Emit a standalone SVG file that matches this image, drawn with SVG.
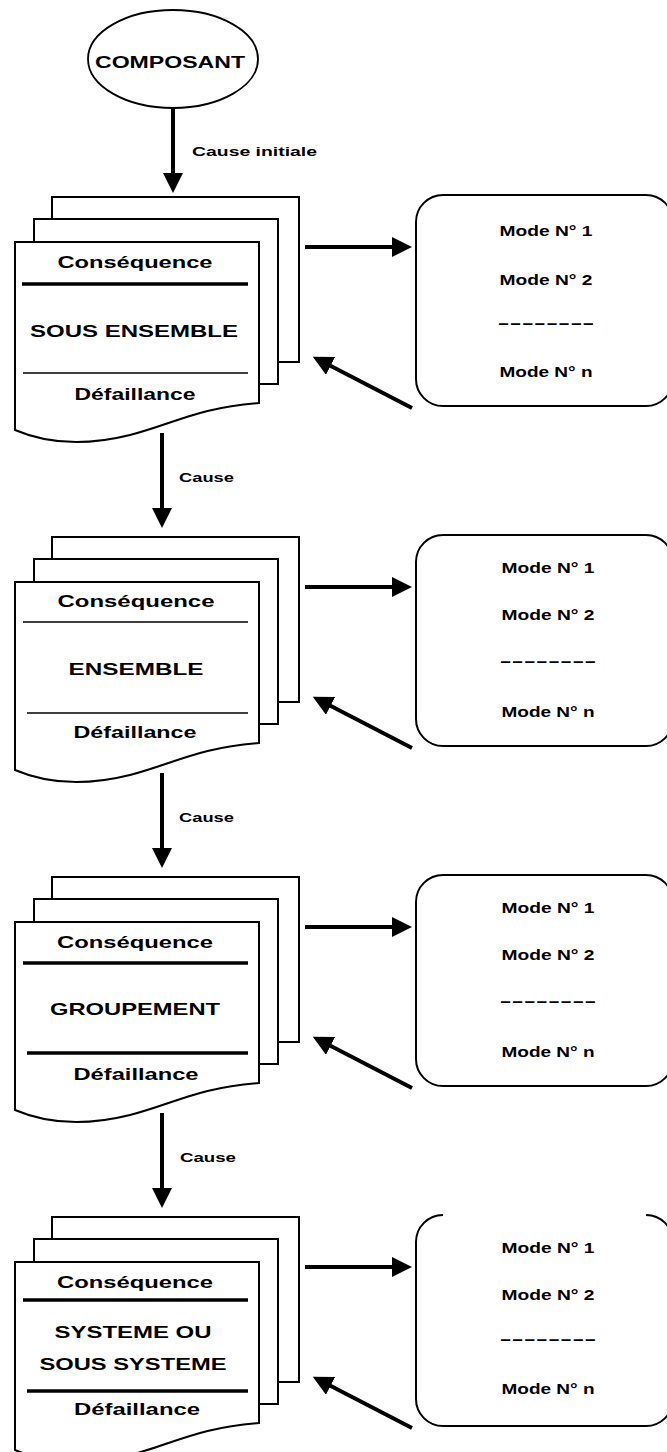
<svg xmlns="http://www.w3.org/2000/svg" width="667" height="1452" viewBox="0 0 667 1452">
<style>
.pg{fill:#fff;stroke:#000;stroke-width:2}
.bx{fill:#fff;stroke:#000;stroke-width:2}
.ln{stroke:#000}
.thk{stroke-width:3.5}
.thn{stroke-width:1.5}
.t{font-family:"Liberation Sans",Arial,sans-serif;fill:#000;text-anchor:middle;font-weight:bold}
.dt{font-size:17px}
.nm{font-size:17px}
.mt{font-size:15px}
.lb{font-size:13px;text-anchor:start}
.cn{stroke:#000;stroke-width:4;fill:none;marker-end:url(#ah)}
</style>
<defs>
<marker id="ah" viewBox="0 0 20 20" refX="4" refY="10" markerWidth="20" markerHeight="20" markerUnits="userSpaceOnUse" orient="auto"><path d="M0,0 L20,10 L0,20 z" fill="#000"/></marker>
</defs>
<rect width="667" height="1452" fill="#fff"/>

<g id="composant">
<ellipse cx="173" cy="59" rx="85" ry="49" fill="#fff" stroke="#000" stroke-width="1.8"/>
<text class="t" x="170" y="68" font-size="17" textLength="150" lengthAdjust="spacingAndGlyphs">COMPOSANT</text>
</g>

<g id="doc1" transform="translate(0,197)">
<rect class="pg" x="52" y="0" width="247" height="165"/>
<rect class="pg" x="34" y="22" width="244" height="165"/>
<path class="pg" d="M15,45 H259 V206 C200,210 170,228 130,238 C90,248 50,248 15,233 Z"/>
<text class="t dt" x="135" y="71" textLength="155" lengthAdjust="spacingAndGlyphs">Conséquence</text>
<line class="ln thk" x1="22" y1="87" x2="248" y2="87"/>
<text class="t nm" x="134" y="140" textLength="208" lengthAdjust="spacingAndGlyphs">SOUS ENSEMBLE</text>
<line class="ln thn" x1="23" y1="176" x2="248" y2="176"/>
<text class="t dt" x="135" y="203" textLength="121" lengthAdjust="spacingAndGlyphs">Défaillance</text>
</g>

<g id="doc2" transform="translate(0,537)">
<rect class="pg" x="52" y="0" width="247" height="165"/>
<rect class="pg" x="34" y="22" width="244" height="165"/>
<path class="pg" d="M15,45 H259 V206 C200,210 170,228 130,238 C90,248 50,248 15,233 Z"/>
<text class="t dt" x="136" y="70" textLength="157" lengthAdjust="spacingAndGlyphs">Conséquence</text>
<line class="ln thn" x1="23" y1="85" x2="248" y2="85"/>
<text class="t nm" x="136" y="138" textLength="135" lengthAdjust="spacingAndGlyphs">ENSEMBLE</text>
<line class="ln thn" x1="27" y1="176" x2="248" y2="176"/>
<text class="t dt" x="135" y="201" textLength="123" lengthAdjust="spacingAndGlyphs">Défaillance</text>
</g>

<g id="doc3" transform="translate(0,877)">
<rect class="pg" x="52" y="0" width="247" height="165"/>
<rect class="pg" x="34" y="22" width="244" height="165"/>
<path class="pg" d="M15,45 H259 V206 C200,210 170,228 130,238 C90,248 50,248 15,233 Z"/>
<text class="t dt" x="135" y="71" textLength="156" lengthAdjust="spacingAndGlyphs">Conséquence</text>
<line class="ln thk" x1="23" y1="86" x2="248" y2="86"/>
<text class="t nm" x="135" y="138" textLength="170" lengthAdjust="spacingAndGlyphs">GROUPEMENT</text>
<line class="ln thk" x1="27" y1="176" x2="248" y2="176"/>
<text class="t dt" x="136" y="203" textLength="125" lengthAdjust="spacingAndGlyphs">Défaillance</text>
</g>

<g id="doc4" transform="translate(0,1217)">
<rect class="pg" x="52" y="0" width="247" height="165"/>
<rect class="pg" x="34" y="22" width="244" height="165"/>
<path class="pg" d="M15,45 H259 V206 C200,210 170,228 130,238 C90,248 50,248 15,233 Z"/>
<text class="t dt" x="135" y="71" textLength="156" lengthAdjust="spacingAndGlyphs">Conséquence</text>
<line class="ln thk" x1="23" y1="83" x2="248" y2="83"/>
<text class="t nm" x="133" y="121" textLength="157" lengthAdjust="spacingAndGlyphs">SYSTEME OU</text>
<text class="t nm" x="133" y="153" textLength="187" lengthAdjust="spacingAndGlyphs">SOUS SYSTEME</text>
<line class="ln thk" x1="27" y1="174" x2="248" y2="174"/>
<text class="t dt" x="137" y="198" textLength="126" lengthAdjust="spacingAndGlyphs">Défaillance</text>
</g>

<g id="modes1" transform="translate(0,195)">
<rect class="bx" x="416" y="0" width="257" height="211" rx="27" ry="27"/>
<text class="t mt" x="546" y="41" textLength="93" lengthAdjust="spacingAndGlyphs">Mode N° 1</text>
<text class="t mt" x="546" y="90" textLength="93" lengthAdjust="spacingAndGlyphs">Mode N° 2</text>
<text class="t mt" x="546" y="133" textLength="97" lengthAdjust="spacingAndGlyphs">--------</text>
<text class="t mt" x="546" y="182" textLength="93" lengthAdjust="spacingAndGlyphs">Mode N° n</text>
</g>

<g id="modes2" transform="translate(0,535)">
<rect class="bx" x="416" y="0" width="257" height="211" rx="27" ry="27"/>
<text class="t mt" x="548" y="38" textLength="93" lengthAdjust="spacingAndGlyphs">Mode N° 1</text>
<text class="t mt" x="548" y="85" textLength="93" lengthAdjust="spacingAndGlyphs">Mode N° 2</text>
<text class="t mt" x="548" y="131" textLength="97" lengthAdjust="spacingAndGlyphs">--------</text>
<text class="t mt" x="548" y="182" textLength="93" lengthAdjust="spacingAndGlyphs">Mode N° n</text>
</g>

<g id="modes3" transform="translate(0,875)">
<rect class="bx" x="416" y="0" width="257" height="211" rx="27" ry="27"/>
<text class="t mt" x="548" y="38" textLength="93" lengthAdjust="spacingAndGlyphs">Mode N° 1</text>
<text class="t mt" x="548" y="85" textLength="93" lengthAdjust="spacingAndGlyphs">Mode N° 2</text>
<text class="t mt" x="548" y="131" textLength="97" lengthAdjust="spacingAndGlyphs">--------</text>
<text class="t mt" x="548" y="182" textLength="93" lengthAdjust="spacingAndGlyphs">Mode N° n</text>
</g>

<g id="modes4" transform="translate(0,1215)">
<path class="bx" d="M646,0 A27,27 0 0 1 673,27 V184 A27,27 0 0 1 646,211 H443 A27,27 0 0 1 416,184 V27 A27,27 0 0 1 443,0"/>
<text class="t mt" x="548" y="38" textLength="93" lengthAdjust="spacingAndGlyphs">Mode N° 1</text>
<text class="t mt" x="548" y="85" textLength="93" lengthAdjust="spacingAndGlyphs">Mode N° 2</text>
<text class="t mt" x="548" y="129" textLength="97" lengthAdjust="spacingAndGlyphs">--------</text>
<text class="t mt" x="548" y="179" textLength="93" lengthAdjust="spacingAndGlyphs">Mode N° n</text>
</g>

<g id="connectors">
<line class="cn" x1="173" y1="108" x2="173" y2="177"/>
<line class="cn" x1="162" y1="433" x2="162" y2="512"/>
<line class="cn" x1="162" y1="773" x2="162" y2="852"/>
<line class="cn" x1="162" y1="1113" x2="162" y2="1192"/>
<line class="cn" x1="305" y1="247" x2="396" y2="247"/>
<line class="cn" x1="305" y1="587" x2="396" y2="587"/>
<line class="cn" x1="305" y1="927" x2="396" y2="927"/>
<line class="cn" x1="305" y1="1267" x2="396" y2="1267"/>
<line class="cn" x1="412" y1="408" x2="327" y2="364"/>
<line class="cn" x1="412" y1="748" x2="327" y2="704"/>
<line class="cn" x1="412" y1="1088" x2="327" y2="1044"/>
<line class="cn" x1="412" y1="1428" x2="327" y2="1384"/>
<text class="t lb" x="192" y="156" textLength="125" lengthAdjust="spacingAndGlyphs">Cause initiale</text>
<text class="t lb" x="179" y="482" textLength="55" lengthAdjust="spacingAndGlyphs">Cause</text>
<text class="t lb" x="179" y="822" textLength="55" lengthAdjust="spacingAndGlyphs">Cause</text>
<text class="t lb" x="180" y="1162" textLength="56" lengthAdjust="spacingAndGlyphs">Cause</text>
</g>
</svg>
